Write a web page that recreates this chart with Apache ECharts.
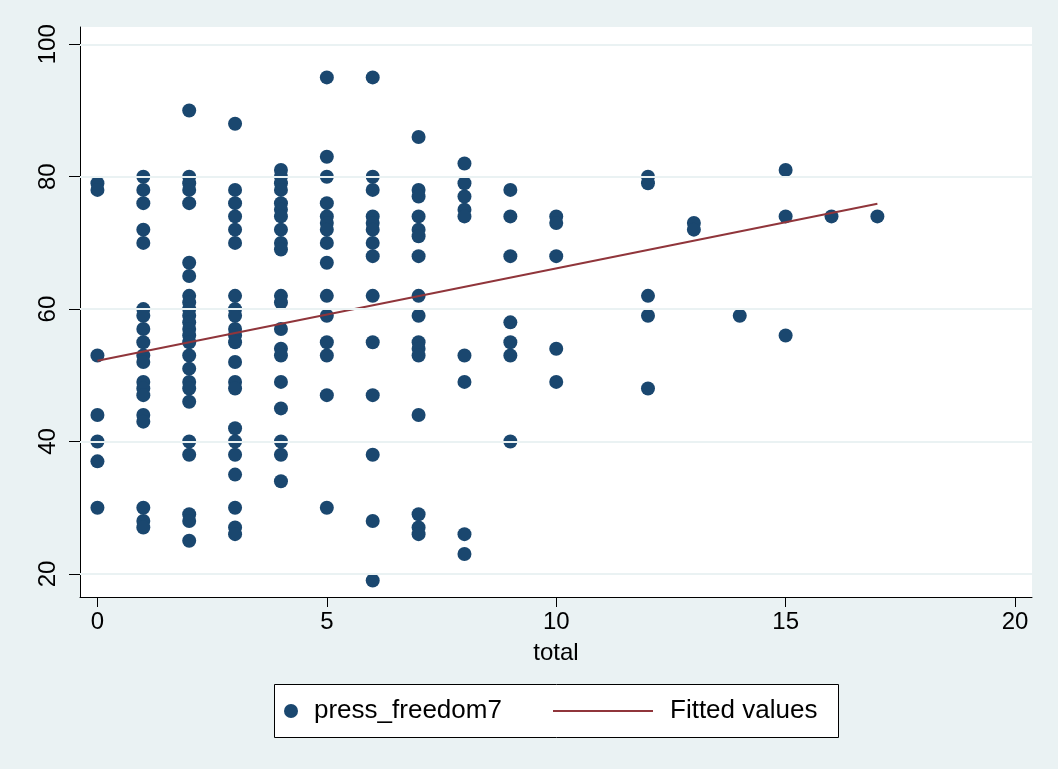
<!DOCTYPE html>
<html>
<head>
<meta charset="utf-8">
<title>press_freedom7 vs total</title>
<script src="https://cdn.jsdelivr.net/npm/echarts@6/dist/echarts.min.js"></script>
<style>
  html, body { margin: 0; padding: 0; background: #eaf2f3; }
  #chart { width: 1058px; height: 769px; }
</style>
</head>
<body>
<div id="chart"></div>
<script>
// x values (total) and the press_freedom7 observations recorded at each one
const totalValues = [0, 1, 2, 3, 4, 5, 6, 7, 8, 9, 10, 12, 13, 14, 15, 16, 17];
const pressFreedomByTotal = [
  [79, 78, 53, 44, 40, 37, 30],
  [80, 78, 76, 72, 70, 60, 59, 57, 55, 53, 52, 49, 48, 47, 44, 43, 30, 28, 27],
  [90, 80, 79, 78, 76, 67, 65, 62, 61, 60, 59, 58, 57, 56, 55, 53, 51, 49, 48, 46, 40, 38, 29, 28, 25],
  [88, 78, 76, 74, 72, 70, 62, 60, 59, 57, 56, 55, 52, 49, 48, 42, 40, 38, 35, 30, 27, 26],
  [81, 80, 79, 78, 76, 75, 74, 72, 70, 69, 62, 61, 57, 54, 53, 49, 45, 40, 38, 34],
  [95, 83, 80, 76, 74, 73, 72, 70, 67, 62, 59, 55, 53, 47, 30],
  [95, 80, 78, 74, 73, 72, 70, 68, 62, 55, 47, 38, 28, 19],
  [86, 78, 77, 74, 72, 71, 68, 62, 59, 55, 54, 53, 44, 29, 27, 26],
  [82, 79, 77, 75, 74, 53, 49, 26, 23],
  [78, 74, 68, 58, 55, 53, 40],
  [74, 73, 68, 54, 49],
  [80, 79, 62, 59, 48],
  [73, 72],
  [59],
  [81, 74, 56],
  [74],
  [74]
];

// Linear fit endpoints
const fittedTotals = [0, 17];
const fittedValues = [52.2, 75.9];

// Axis tick labels
const xTicks = [0, 5, 10, 15, 20];
const yTicks = [20, 40, 60, 80, 100];

const scatterPoints = [];
totalValues.forEach(function (t, i) {
  pressFreedomByTotal[i].forEach(function (v) { scatterPoints.push([t, v]); });
});
const fittedPoints = fittedTotals.map(function (t, i) { return [t, fittedValues[i]]; });

const NAVY = '#1a476f';
const MAROON = '#90353b';
const BG = '#eaf2f3';
const FONT = '"Liberation Sans", Arial, Helvetica, sans-serif';

const chart = echarts.init(document.getElementById('chart'), null, { renderer: 'canvas' });

chart.setOption({
  backgroundColor: BG,
  animation: false,
  textStyle: { fontFamily: FONT },
  grid: {
    left: 80, right: 26, top: 27, bottom: 172,
    show: true, backgroundColor: '#ffffff', borderWidth: 0
  },
  xAxis: {
    type: 'value',
    min: -0.38, max: 20.37,
    name: 'total',
    nameLocation: 'middle',
    nameGap: 44,
    nameTextStyle: { fontSize: 24, color: '#000', fontFamily: FONT },
    axisLine: { show: true, onZero: false, lineStyle: { color: '#000', width: 1 } },
    axisTick: { show: true, length: 10, customValues: xTicks, lineStyle: { color: '#000' } },
    axisLabel: { customValues: xTicks, fontSize: 24, color: '#000', margin: 13, fontFamily: FONT },
    splitLine: { show: false }
  },
  yAxis: {
    type: 'value',
    min: 16.51, max: 102.61,
    axisLine: { show: true, onZero: false, lineStyle: { color: '#000', width: 1 } },
    axisTick: { show: true, length: 11, customValues: yTicks, lineStyle: { color: '#000' } },
    axisLabel: { customValues: yTicks, fontSize: 24, color: '#000', rotate: 90, margin: 20, fontFamily: FONT },
    splitLine: { show: false }
  },
  legend: [
    {
      data: [{ name: 'press_freedom7', icon: 'circle' }],
      left: 284, top: 698, padding: 0,
      itemWidth: 14, itemHeight: 14,
      textStyle: { fontSize: 26, color: '#000', fontFamily: FONT, padding: [0, 0, 0, 11] },
      selectedMode: false
    },
    {
      data: [{ name: 'Fitted values', icon: 'rect' }],
      left: 553, top: 698, padding: 0,
      itemWidth: 100, itemHeight: 2,
      itemStyle: { color: MAROON, borderWidth: 0 },
      textStyle: { fontSize: 26, color: '#000', fontFamily: FONT, padding: [0, 0, 0, 12] },
      selectedMode: false
    }
  ],
  graphic: [
    {
      type: 'rect', z: -1,
      shape: { x: 274.5, y: 684.5, width: 564, height: 53 },
      style: { fill: '#ffffff', stroke: '#000000', lineWidth: 1 }
    }
  ],
  series: [
    {
      // horizontal grid lines at the labelled y ticks
      name: 'grid',
      type: 'line',
      data: [],
      z: 1,
      silent: true,
      markLine: {
        silent: true,
        symbol: ['none', 'none'],
        label: { show: false },
        lineStyle: { color: BG, width: 2, type: 'solid' },
        data: yTicks.map(function (v) { return { yAxis: v }; })
      }
    },
    {
      name: 'press_freedom7',
      type: 'scatter',
      z: 2,
      symbol: 'circle',
      symbolSize: 14,
      itemStyle: { color: NAVY, opacity: 1 },
      data: scatterPoints
    },
    {
      name: 'Fitted values',
      type: 'line',
      z: 3,
      symbol: 'none',
      lineStyle: { color: MAROON, width: 2 },
      itemStyle: { color: MAROON },
      data: fittedPoints
    }
  ]
});
</script>
</body>
</html>
